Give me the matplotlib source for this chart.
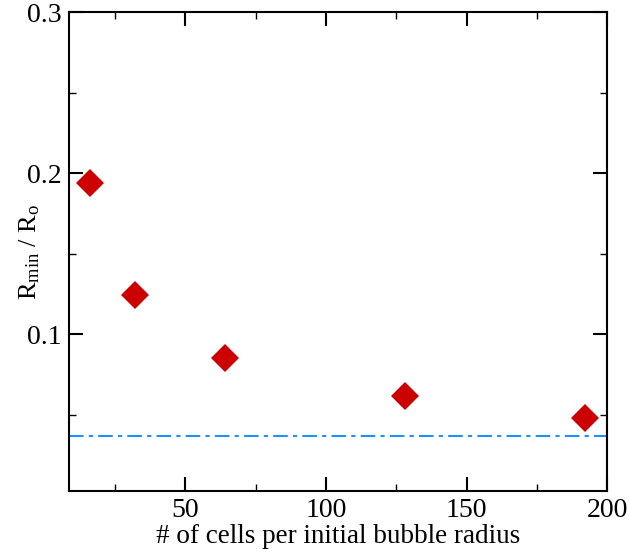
import matplotlib

matplotlib.use("Agg")
import matplotlib.pyplot as plt
from matplotlib.ticker import MultipleLocator

# grid resolution vs. minimum bubble radius
cells_per_radius = [16, 32, 64, 128, 192]
r_min_ratio = [0.194, 0.1245, 0.0852, 0.0618, 0.0478]
reference_ratio = 0.0367

x_ticks = [50, 100, 150, 200]
y_ticks = [0.1, 0.2, 0.3]

plt.rcParams.update(
    {
        "font.family": "Liberation Serif",
        "mathtext.fontset": "custom",
        "mathtext.rm": "Liberation Serif",
        "mathtext.it": "Liberation Serif",
    }
)

figure = plt.figure(figsize=(6.29, 5.54), dpi=100)
axis = figure.add_axes([0.1097, 0.1137, 0.8558, 0.8646])

axis.axhline(reference_ratio, color="#1E90FF", linewidth=1.5,
             dashes=(7, 2.5, 2, 2.5))
axis.plot(cells_per_radius, r_min_ratio, linestyle="none", marker="D",
          markersize=14.5, color="#CC0000", markeredgewidth=0)

axis.set_xlim(8.6, 200)
axis.set_ylim(0.0028, 0.3)
axis.set_xticks(x_ticks)
axis.set_yticks(y_ticks)
axis.set_yticklabels([f"{v:g}" for v in y_ticks])
axis.xaxis.set_minor_locator(MultipleLocator(25))
axis.yaxis.set_minor_locator(MultipleLocator(0.05))

axis.tick_params(which="both", direction="in", top=True, right=True,
                 labelsize=20, width=1.5, colors="black")
axis.tick_params(which="major", length=10, pad=5)
axis.tick_params(which="minor", length=5, width=1.0)
for spine in axis.spines.values():
    spine.set_linewidth(1.5)

axis.set_xlabel("# of cells per initial bubble radius", fontsize=19.5, labelpad=1)
axis.set_ylabel(r"R$_{\rm min}$ / R$_{\rm o}$", fontsize=19)
axis.yaxis.set_label_coords(-0.05, 0.5)

figure.savefig("out.png", dpi=100)
